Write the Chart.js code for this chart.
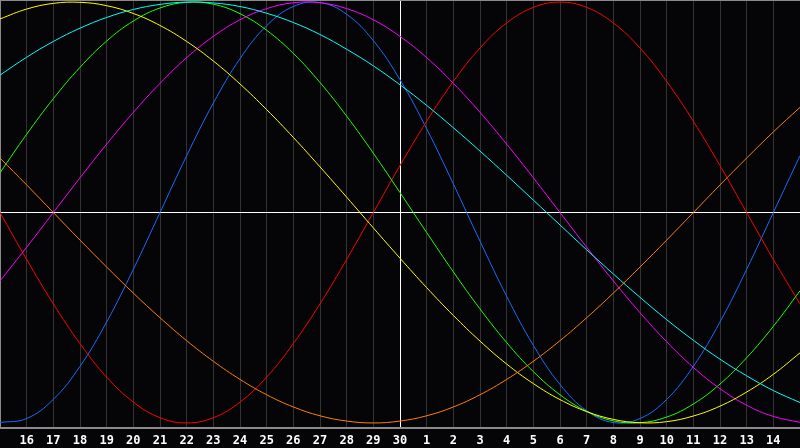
<!DOCTYPE html>
<html>
<head>
<meta charset="utf-8">
<script src="https://cdn.jsdelivr.net/npm/chart.js@4"></script>
<style>
  html, body { margin: 0; padding: 0; background: #050508; }
  canvas { display: block; }
</style>
</head>
<body>
<canvas id="bio" width="800" height="448"></canvas>
<script>
// days shown along the bottom (first and last sit on the frame edges)
var days = ['15','16','17','18','19','20','21','22','23','24','25','26','27','28','29','30',
            '1','2','3','4','5','6','7','8','9','10','11','12','13','14','15'];

// values, one per day
var physical = [-0.998,-0.979,-0.888,-0.731,-0.520,-0.270,0.000,0.270,0.520,0.731,0.888,0.979,0.998,0.942,0.817,0.631,
                0.398,0.136,-0.136,-0.398,-0.631,-0.817,-0.942,-0.998,-0.979,-0.888,-0.731,-0.520,-0.270,0.000,0.270];
var emotional = [0.000,-0.223,-0.434,-0.623,-0.782,-0.901,-0.975,-1.000,-0.975,-0.901,-0.782,-0.623,-0.434,-0.223,0.000,0.223,
                 0.434,0.623,0.782,0.901,0.975,1.000,0.975,0.901,0.782,0.623,0.434,0.223,0.000,-0.223,-0.434];
var intellectual = [0.189,0.372,0.541,0.690,0.815,0.910,0.972,0.999,0.990,0.945,0.866,0.756,0.618,0.458,0.282,0.095,
                    -0.095,-0.282,-0.458,-0.618,-0.756,-0.866,-0.945,-0.990,-0.999,-0.972,-0.910,-0.815,-0.690,-0.541,-0.372];
var intuitive = [-0.325,-0.165,0.000,0.165,0.325,0.476,0.614,0.736,0.837,0.916,0.969,0.997,0.997,0.969,0.916,0.837,
                 0.736,0.614,0.476,0.325,0.165,0.000,-0.165,-0.325,-0.476,-0.614,-0.736,-0.837,-0.916,-0.969,-0.997];
var aesthetic = [0.920,0.967,0.994,0.999,0.983,0.946,0.889,0.813,0.720,0.611,0.489,0.357,0.217,0.073,-0.073,-0.217,
                 -0.357,-0.489,-0.611,-0.720,-0.813,-0.889,-0.946,-0.983,-0.999,-0.994,-0.967,-0.920,-0.853,-0.769,-0.667];
var awareness = [0.259,0.131,0.000,-0.131,-0.259,-0.383,-0.500,-0.609,-0.707,-0.793,-0.866,-0.924,-0.966,-0.991,-1.000,-0.991,
                 -0.966,-0.924,-0.866,-0.793,-0.707,-0.609,-0.500,-0.383,-0.259,-0.131,0.000,0.131,0.259,0.383,0.500];
var spiritual = [0.653,0.738,0.813,0.876,0.927,0.965,0.989,1.000,0.996,0.979,0.947,0.903,0.846,0.776,0.697,0.607,
                 0.509,0.403,0.292,0.177,0.059,-0.059,-0.177,-0.292,-0.403,-0.509,-0.607,-0.697,-0.776,-0.846,-0.903];

var todayIndex = 15;

function line(values, color) {
  return {
    data: values,
    borderColor: color,
    borderWidth: 1,
    pointRadius: 0,
    fill: false,
    tension: 0.4
  };
}

// top edge of the frame, chart.js only draws left and bottom
var frame = {
  id: 'frame',
  beforeDatasetsDraw: function (chart) {
    var a = chart.chartArea, c = chart.ctx;
    c.save();
    c.strokeStyle = '#8a8a8a';
    c.lineWidth = 1;
    c.beginPath();
    c.moveTo(a.left, a.top + 0.5);
    c.lineTo(a.right, a.top + 0.5);
    c.stroke();
    c.restore();
  }
};

var ctx = document.getElementById('bio');
new Chart(ctx, {
  type: 'line',
  data: {
    labels: days,
    datasets: [
      line(awareness, '#ff8000'),
      line(spiritual, '#00ffff'),
      line(aesthetic, '#ffff00'),
      line(intuitive, '#ff00ff'),
      line(intellectual, '#22ff00'),
      line(emotional, '#ff0000'),
      line(physical, '#1a6cff')
    ]
  },
  options: {
    responsive: false,
    animation: false,
    layout: { padding: 0 },
    plugins: {
      legend: { display: false },
      tooltip: { enabled: false }
    },
    scales: {
      x: {
        offset: false,
        afterFit: function (s) { s.paddingLeft = 0; s.paddingRight = 0; s.height = 20; },
        border: { display: true, color: '#8a8a8a', width: 2 },
        grid: {
          drawTicks: false,
          color: function (c) { return c.index === todayIndex ? '#ffffff' : '#333333'; },
          lineWidth: 1
        },
        ticks: {
          autoSkip: false,
          maxRotation: 0,
          padding: 6,
          color: '#ffffff',
          font: { family: 'DejaVu Sans Mono', size: 12, weight: 'bold' },
          callback: function (v, i) {
            return (i === 0 || i === days.length - 1) ? '' : days[i];
          }
        }
      },
      y: {
        min: -1.024,
        max: 1.01,
        afterFit: function (s) { s.width = 0; },
        afterBuildTicks: function (axis) { axis.ticks = [{ value: 0 }]; },
        border: { display: true, color: '#8a8a8a', width: 2 },
        grid: { drawTicks: false, color: '#ffffff', lineWidth: 1 },
        ticks: { display: false }
      }
    }
  },
  plugins: [frame]
});
</script>
</body>
</html>
